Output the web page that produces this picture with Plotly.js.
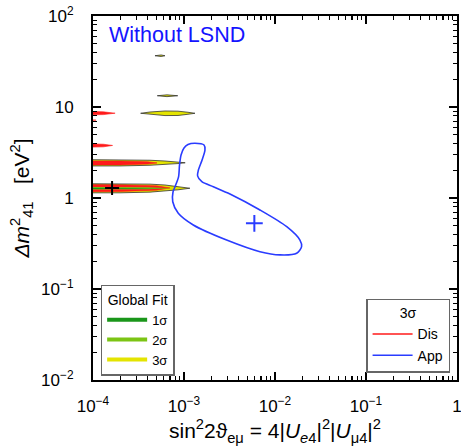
<!DOCTYPE html>
<html>
<head>
<meta charset="utf-8">
<script src="https://cdn.plot.ly/plotly-3.0.1.min.js"></script>
<style>html,body{margin:0;padding:0;background:#fff;}#chart{width:461px;height:446px;}</style>
</head>
<body>
<div id="chart"></div>
<script>
// ---- axis ticks ----
const xTicks = [1e-4, 1e-3, 1e-2, 1e-1, 1];
const xTickText = ['10<sup>\u22124</sup>', '10<sup>\u22123</sup>', '10<sup>\u22122</sup>', '10<sup>\u22121</sup>', '1'];
const yTicks = [1e-2, 1e-1, 1, 10, 100];
const yTickText = ['10<sup>\u22122</sup>', '10<sup>\u22121</sup>', '1', '10', '10<sup>2</sup>'];

// ---- appearance (App) 3 sigma contour ----
const appX = [1.32e-3, 1.66e-3, 1.70e-3, 1.58e-3, 1.44e-3, 1.41e-3, 1.57e-3, 2.10e-3, 3.20e-3, 6.84e-3, 1.346e-2, 1.88e-2, 1.96e-2, 1.73e-2, 1.135e-2, 6.84e-3, 2.94e-3, 1.265e-3, 8.65e-4, 7.52e-4, 7.57e-4, 7.96e-4, 8.71e-4, 8.93e-4, 9.28e-4, 1.0e-3, 1.106e-3, 1.32e-3];
const appY = [3.99, 3.82, 3.37, 2.62, 2.03, 1.75, 1.51, 1.33, 1.107, 0.738, 0.484, 0.345, 0.292, 0.247, 0.237, 0.257, 0.345, 0.505, 0.679, 0.910, 1.164, 1.33, 1.71, 2.31, 2.97, 3.54, 3.87, 3.99];
const appBestX = [5.93e-3];
const appBestY = [0.527];

// ---- disappearance (Dis) 3 sigma islands ----
const disX = [5e-5, 2e-4, 4e-4, 5.05e-4, 4e-4, 2e-4, 5e-5, null,
              5e-5, 2e-4, 5e-4, 7e-4, 5e-4, 2e-4, 5e-5, null,
              5e-5, 1.3e-4, 1.75e-4, 1.3e-4, 5e-5, null,
              5e-5, 1.08e-4, 5e-5, null,
              5e-5, 1.3e-4, 1.64e-4, 1.3e-4, 5e-5];
const disY = [2.55, 2.55, 2.50, 2.43, 2.36, 2.31, 2.31, null,
              1.41, 1.40, 1.36, 1.29, 1.22, 1.18, 1.17, null,
              9.04, 8.85, 8.55, 8.25, 8.11, null,
              7.35, 7.17, 7.0, null,
              3.99, 3.90, 3.78, 3.65, 3.57];

// ---- global fit regions ----
const gf3X = [5e-5, 1.98e-4, 4.23e-4, 6.18e-4, 8.59e-4, 1.03e-3, 8.59e-4, 6.18e-4, 4.23e-4, 1.98e-4, 5e-5, 5e-5, null,
              5e-5, 1.98e-4, 4.23e-4, 6.18e-4, 8.59e-4, 1.16e-3, 8.59e-4, 6.18e-4, 4.23e-4, 1.98e-4, 5e-5, 5e-5, null,
              3.34e-4, 4.23e-4, 6.18e-4, 8.59e-4, 1.106e-3, 1.32e-3, 1.106e-3, 8.59e-4, 6.18e-4, 4.23e-4, 3.34e-4, null,
              5.09e-4, 6.5e-4, 8.53e-4, 6.5e-4, 5.09e-4, null,
              4.8e-4, 5.6e-4, 6.18e-4, 5.6e-4, 4.8e-4];
const gf3Y = [2.65, 2.64, 2.60, 2.55, 2.49, 2.44, 2.39, 2.33, 2.29, 2.25, 2.25, 2.65, null,
              1.44, 1.44, 1.42, 1.39, 1.34, 1.28, 1.23, 1.19, 1.16, 1.14, 1.14, 1.44, null,
              8.53, 8.81, 9.04, 9.00, 8.75, 8.53, 8.32, 8.07, 8.05, 8.25, 8.53, null,
              13.3, 13.6, 13.3, 13.0, 13.3, null,
              36.6, 37.3, 36.6, 35.9, 36.6];
const gf2X = [5e-5, 4e-4, 7.6e-4, 4e-4, 5e-5];
const gf2Y = [1.32, 1.315, 1.28, 1.245, 1.24];
const gf1X = [5e-5, 3e-4, 6.5e-4, 3e-4, 5e-5];
const gf1Y = [1.305, 1.30, 1.28, 1.26, 1.255];
const gfBestX = [1.62e-4];
const gfBestY = [1.29];

// ---- legend entries ----
const gfNames = ['1\u03c3', '2\u03c3', '3\u03c3'];
const gfColors = ['#1a961a', '#7cc414', '#e4e400'];
const setNames = ['Dis', 'App'];
const setColors = ['#ff1a1a', '#2a3cff'];

// minor tick positions (2..9 per decade)
function minorTicks(lo, hi) {
  const out = [];
  for (let e = lo; e < hi; e++) for (let m = 2; m <= 9; m++) out.push(m * Math.pow(10, e));
  return out;
}

const FONT = 'Liberation Sans, Arial, Helvetica, sans-serif';

const traces = [
  {x: gf3X, y: gf3Y, mode: 'lines', fill: 'toself', fillcolor: gfColors[2], line: {width: 0, color: gfColors[2]}, showlegend: false, hoverinfo: 'skip'},
  {x: disX, y: disY, mode: 'lines', fill: 'toself', fillcolor: setColors[0], line: {width: 0.6, color: setColors[0]}, showlegend: false, hoverinfo: 'skip'},
  {x: gf2X, y: gf2Y, mode: 'lines', fill: 'toself', fillcolor: gfColors[1], line: {width: 0, color: gfColors[1]}, showlegend: false, hoverinfo: 'skip'},
  {x: gf1X, y: gf1Y, mode: 'lines', fill: 'toself', fillcolor: gfColors[0], line: {width: 0, color: gfColors[0]}, showlegend: false, hoverinfo: 'skip'},
  {x: gf3X, y: gf3Y, mode: 'lines', line: {width: 0.8, color: '#333'}, showlegend: false, hoverinfo: 'skip'},
  {x: gfBestX, y: gfBestY, mode: 'markers', marker: {symbol: 'cross-thin', size: 10, line: {width: 2, color: 'black'}}, showlegend: false},
  {x: appX, y: appY, mode: 'lines', line: {color: setColors[1], width: 1.6, shape: 'spline', smoothing: 0.8}, showlegend: false, hoverinfo: 'skip'},
  {x: appBestX, y: appBestY, mode: 'markers', marker: {symbol: 'cross-thin', size: 12, line: {width: 2, color: setColors[1]}}, showlegend: false}
];
gfNames.forEach((n, i) => traces.push({x: [null], y: [null], mode: 'lines', name: n, line: {color: gfColors[i], width: 4}, legend: 'legend'}));
setNames.forEach((n, i) => traces.push({x: [null], y: [null], mode: 'lines', name: n, line: {color: setColors[i], width: 1.6}, legend: 'legend2'}));

const axisCommon = {
  type: 'log', tickmode: 'array', ticks: 'inside', ticklen: 8, tickwidth: 1.5, tickcolor: 'black',
  showline: true, linecolor: 'black', linewidth: 2, mirror: 'allticks', showgrid: false, zeroline: false,
  ticklabeloverflow: 'allow',
  tickfont: {family: FONT, size: 17, color: 'black'}
};

const layout = {
  width: 461, height: 446,
  margin: {l: 93, r: 4, t: 16, b: 66},
  paper_bgcolor: 'white', plot_bgcolor: 'white',
  font: {family: FONT, color: 'black'},
  xaxis: Object.assign({}, axisCommon, {
    range: [-4, 0], tickvals: xTicks, ticktext: xTickText, ticklabelstandoff: 10,
    minor: {tickmode: 'array', tickvals: minorTicks(-4, 0), ticks: 'inside', ticklen: 4, tickwidth: 1.2, tickcolor: 'black', showgrid: false},
    title: {text: 'sin<sup>2</sup>2\u03d1<sub>e\u03bc</sub> = 4|<i>U</i><sub><i>e</i>4</sub>|<sup>2</sup>|<i>U</i><sub>\u03bc4</sub>|<sup>2</sup>', font: {family: FONT, size: 21, color: 'black'}, standoff: 3}
  }),
  yaxis: Object.assign({}, axisCommon, {
    range: [-2, 2], tickvals: yTicks, ticktext: yTickText, ticklabelstandoff: 14,
    minor: {tickmode: 'array', tickvals: minorTicks(-2, 2), ticks: 'inside', ticklen: 4, tickwidth: 1.2, tickcolor: 'black', showgrid: false},
    title: {text: '<i>\u0394m</i><sup>2</sup><sub>41</sub>   [eV<sup>2</sup>]', font: {family: FONT, size: 21, color: 'black'}, standoff: 6}
  }),
  legend: {
    x: 0.021, y: 0.261, xanchor: 'left', yanchor: 'top',
    bordercolor: '#666', borderwidth: 1.5, bgcolor: 'white',
    font: {family: FONT, size: 13, color: 'black'},
    title: {text: 'Global Fit', side: 'top center', font: {family: FONT, size: 14, color: 'black'}},
    itemwidth: 40, tracegroupgap: 0
  },
  legend2: {
    x: 0.981, y: 0.02, xanchor: 'right', yanchor: 'bottom',
    bordercolor: '#666', borderwidth: 1.5, bgcolor: 'white',
    font: {family: FONT, size: 14, color: 'black'},
    title: {text: '3\u03c3', side: 'top center', font: {family: FONT, size: 14, color: 'black'}},
    itemwidth: 40, tracegroupgap: 0
  },
  annotations: [{
    xref: 'paper', yref: 'paper', x: 0.0385, y: 0.948, xanchor: 'left', yanchor: 'middle',
    text: 'Without LSND', showarrow: false, font: {family: FONT, size: 21.5, color: '#1414ff'}
  }]
};

Plotly.newPlot('chart', traces, layout, {displayModeBar: false, staticPlot: true});
</script>
</body>
</html>
